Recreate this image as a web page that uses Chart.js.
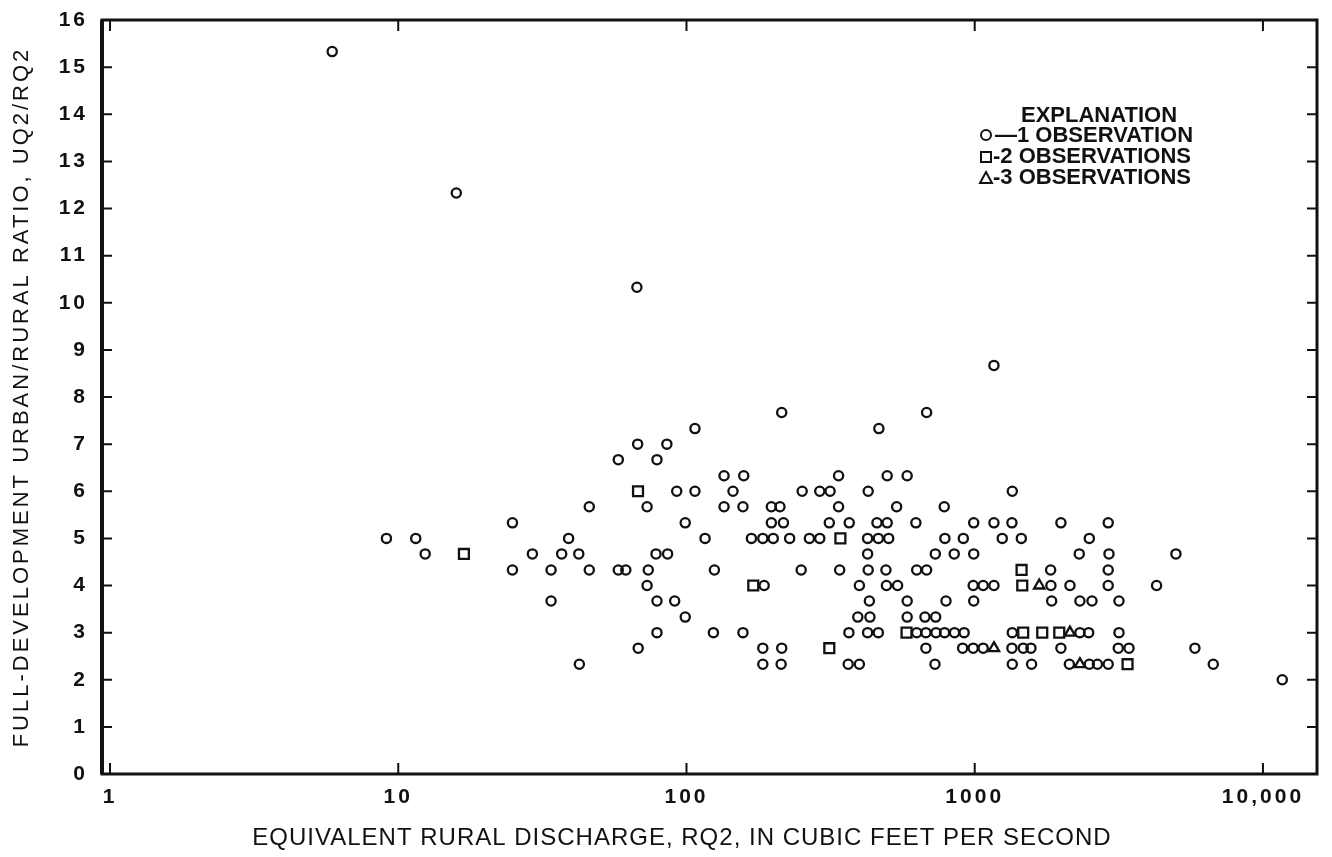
<!DOCTYPE html>
<html>
<head>
<meta charset="utf-8">
<title>Urban/rural ratio vs equivalent rural discharge</title>
<script src="https://cdn.jsdelivr.net/npm/chart.js@4.4.1/dist/chart.umd.min.js"></script>
<style>
  html, body { margin: 0; padding: 0; background: #fff; }
  #chart { display: block; }
</style>
</head>
<body>
<canvas id="chart" width="1332" height="857"></canvas>
<script>
// Axis ticks
var xTickValues = [1, 10, 100, 1000, 10000];
var xTickLabels = ['1', '10', '100', '1000', '10,000'];
var yTickValues = [0, 1, 2, 3, 4, 5, 6, 7, 8, 9, 10, 11, 12, 13, 14, 15, 16];

var xTitle = 'EQUIVALENT RURAL DISCHARGE, RQ2, IN CUBIC FEET PER SECOND';
var yTitle = 'FULL-DEVELOPMENT URBAN/RURAL RATIO, UQ2/RQ2';

// One observation (circles): rural discharge RQ2 and ratio UQ2/RQ2, row by row
var oneObsQ = [
	5.9,
	15.9,
	67.3,
	1166,
	214, 681,
	107, 465,
	67.7, 85.5,
	58, 79,
	135, 158, 337, 497, 583,
	92.5, 107, 145, 252, 290, 315, 427, 1350,
	46, 73, 135, 157, 197, 211, 337, 536, 784,
	24.9, 99, 197, 217, 313, 367, 458, 497, 625, 992, 1166, 1346, 1991, 2905,
	9.1, 11.5, 39, 116, 168, 184, 200, 228, 267, 290, 425, 463, 503, 788, 913, 1246, 1451, 2498,
	12.4, 29.2, 36.9, 42.3, 78.4, 86, 425, 730, 849, 992, 2305, 2923, 4990,
	24.9, 33.9, 46, 58, 61.6, 73.7, 125, 250, 340, 427, 492, 629, 681, 1834, 2905,
	73, 186, 398, 494, 540, 988, 1070, 1166, 1838, 2140, 2905, 4275,
	33.9, 79, 91, 431, 583, 795, 992, 1849, 2317, 2552, 3166,
	99, 393, 433, 583, 672, 732,
	79, 124, 157, 366, 425, 463, 629, 677, 734, 786, 851, 919, 1350, 2317, 2485, 3166,
	68, 184, 214, 677, 908, 988, 1070, 1346, 1474, 1567, 1991, 3148, 3430, 5807,
	42.5, 184, 213, 364, 398, 728, 1350, 1575, 2130, 2498, 2665, 2905, 6724,
	11670
];
var oneObsRatio = [
	15.33,
	12.33,
	10.33,
	8.67,
	7.67, 7.67,
	7.33, 7.33,
	7.0, 7.0,
	6.67, 6.67,
	6.33, 6.33, 6.33, 6.33, 6.33,
	6.0, 6.0, 6.0, 6.0, 6.0, 6.0, 6.0, 6.0,
	5.67, 5.67, 5.67, 5.67, 5.67, 5.67, 5.67, 5.67, 5.67,
	5.33, 5.33, 5.33, 5.33, 5.33, 5.33, 5.33, 5.33, 5.33, 5.33, 5.33, 5.33, 5.33, 5.33,
	5.0, 5.0, 5.0, 5.0, 5.0, 5.0, 5.0, 5.0, 5.0, 5.0, 5.0, 5.0, 5.0, 5.0, 5.0, 5.0, 5.0, 5.0,
	4.67, 4.67, 4.67, 4.67, 4.67, 4.67, 4.67, 4.67, 4.67, 4.67, 4.67, 4.67, 4.67,
	4.33, 4.33, 4.33, 4.33, 4.33, 4.33, 4.33, 4.33, 4.33, 4.33, 4.33, 4.33, 4.33, 4.33, 4.33,
	4.0, 4.0, 4.0, 4.0, 4.0, 4.0, 4.0, 4.0, 4.0, 4.0, 4.0, 4.0,
	3.67, 3.67, 3.67, 3.67, 3.67, 3.67, 3.67, 3.67, 3.67, 3.67, 3.67,
	3.33, 3.33, 3.33, 3.33, 3.33, 3.33,
	3.0, 3.0, 3.0, 3.0, 3.0, 3.0, 3.0, 3.0, 3.0, 3.0, 3.0, 3.0, 3.0, 3.0, 3.0, 3.0,
	2.67, 2.67, 2.67, 2.67, 2.67, 2.67, 2.67, 2.67, 2.67, 2.67, 2.67, 2.67, 2.67, 2.67,
	2.33, 2.33, 2.33, 2.33, 2.33, 2.33, 2.33, 2.33, 2.33, 2.33, 2.33, 2.33, 2.33,
	2.0
];

// Two observations (squares)
var twoObsQ = [16.9, 67.9, 170.5, 313, 342, 580, 1454, 1462, 1473, 1715, 1965, 3390];
var twoObsRatio = [4.67, 6.0, 4.0, 2.67, 5.0, 3.0, 4.33, 4.0, 3.0, 3.0, 3.0, 2.33];

// Three observations (triangles)
var threeObsQ = [1166, 1674, 2140, 2317];
var threeObsRatio = [2.67, 4.0, 3.0, 2.33];

var INK = '#111';
var FONT = '"Liberation Sans", Arial, sans-serif';

function toPoints( qs, ratios ) {
	return qs.map( function( q, i ) {
		return { x: q, y: ratios[ i ] };
	} );
}

// Spaced lettering like the original typeset labels
var letterSpacingPlugin = {
	id: 'letterSpacing',
	beforeDraw: function( chart ) {
		chart.ctx.letterSpacing = '3px';
	}
};

// Heavy frame with inward ticks on all four sides, plus the x title
var framePlugin = {
	id: 'frame',
	afterDraw: function( chart ) {
		var ctx = chart.ctx;
		var a = chart.chartArea;
		var xs = chart.scales.x;
		var ys = chart.scales.y;

		ctx.save();
		ctx.strokeStyle = INK;
		ctx.lineWidth = 2;
		ctx.beginPath();
		yTickValues.forEach( function( v ) {
			var py = ys.getPixelForValue( v );
			ctx.moveTo( a.left, py );
			ctx.lineTo( a.left + 10, py );
			ctx.moveTo( a.right, py );
			ctx.lineTo( a.right - 10, py );
		} );
		xTickValues.forEach( function( v ) {
			var px = xs.getPixelForValue( v );
			ctx.moveTo( px, a.bottom );
			ctx.lineTo( px, a.bottom - 11 );
			ctx.moveTo( px, a.top );
			ctx.lineTo( px, a.top + 11 );
		} );
		ctx.stroke();

		ctx.lineWidth = 3;
		ctx.strokeRect( a.left, a.top, a.right - a.left, a.bottom - a.top );
		ctx.beginPath();
		ctx.lineWidth = 4;
		ctx.moveTo( a.left, a.top );
		ctx.lineTo( a.left, a.bottom );
		ctx.stroke();

		// x title sits a little left of the plot centre in the original
		ctx.letterSpacing = '1px';
		ctx.fillStyle = INK;
		ctx.font = '24px ' + FONT;
		ctx.textAlign = 'center';
		ctx.textBaseline = 'alphabetic';
		ctx.fillText( xTitle, a.left + 580, a.bottom + 71 );
		ctx.restore();
	}
};

// The "EXPLANATION" key inside the plot
var explanationPlugin = {
	id: 'explanation',
	afterDraw: function( chart ) {
		var ctx = chart.ctx;
		var a = chart.chartArea;
		var symX = a.right - 331;

		ctx.save();
		ctx.letterSpacing = '0px';
		ctx.fillStyle = INK;
		ctx.strokeStyle = INK;
		ctx.font = 'bold 22px ' + FONT;
		ctx.textBaseline = 'alphabetic';

		ctx.textAlign = 'center';
		ctx.fillText( 'EXPLANATION', a.right - 218, a.top + 102 );

		ctx.textAlign = 'left';
		ctx.fillText( '\u20141 OBSERVATION', a.right - 322, a.top + 122 );
		ctx.fillText( '-2 OBSERVATIONS', a.right - 324, a.top + 143 );
		ctx.fillText( '-3 OBSERVATIONS', a.right - 324, a.top + 164 );

		ctx.lineWidth = 2;
		ctx.beginPath();
		ctx.arc( symX, a.top + 115, 5, 0, Math.PI * 2 );
		ctx.stroke();

		ctx.strokeRect( symX - 5, a.top + 132, 10, 10 );

		ctx.beginPath();
		ctx.moveTo( symX, a.top + 152 );
		ctx.lineTo( symX + 6, a.top + 163 );
		ctx.lineTo( symX - 6, a.top + 163 );
		ctx.closePath();
		ctx.stroke();
		ctx.restore();
	}
};

var ctx = document.getElementById( 'chart' ).getContext( '2d' );

new Chart( ctx, {
	type: 'scatter',
	data: {
		datasets: [
			{
				label: '1 observation',
				data: toPoints( oneObsQ, oneObsRatio ),
				pointStyle: 'circle',
				pointRadius: 4.6,
				borderWidth: 2.3,
				borderColor: INK,
				backgroundColor: 'rgba(0,0,0,0)'
			},
			{
				label: '2 observations',
				data: toPoints( twoObsQ, twoObsRatio ),
				pointStyle: 'rect',
				pointRadius: 7,
				borderWidth: 2.3,
				borderColor: INK,
				backgroundColor: 'rgba(0,0,0,0)'
			},
			{
				label: '3 observations',
				data: toPoints( threeObsQ, threeObsRatio ),
				pointStyle: 'triangle',
				pointRadius: 6,
				borderWidth: 2.3,
				borderColor: INK,
				backgroundColor: 'rgba(0,0,0,0)'
			}
		]
	},
	options: {
		responsive: false,
		animation: false,
		devicePixelRatio: 1,
		layout: {
			padding: { top: 20, right: 15, left: 0, bottom: 0 }
		},
		plugins: {
			legend: { display: false },
			tooltip: { enabled: false }
		},
		scales: {
			x: {
				type: 'logarithmic',
				min: 0.938,
				max: 15400,
				grid: { display: false },
				border: { display: false },
				afterBuildTicks: function( axis ) {
					axis.ticks = xTickValues.map( function( v ) {
						return { value: v };
					} );
				},
				afterFit: function( axis ) {
					axis.height = 83;
				},
				ticks: {
					autoSkip: false,
					maxRotation: 0,
					padding: 3,
					color: INK,
					font: { family: FONT, size: 21, weight: 'bold' },
					callback: function( value, index ) {
						return xTickLabels[ index ];
					}
				},
				title: { display: false }
			},
			y: {
				min: 0,
				max: 16,
				grid: { display: false },
				border: { display: false },
				afterBuildTicks: function( axis ) {
					axis.ticks = yTickValues.map( function( v ) {
						return { value: v };
					} );
				},
				afterFit: function( axis ) {
					axis.width = 102;
				},
				ticks: {
					padding: 6,
					color: INK,
					font: { family: FONT, size: 21, weight: 'bold' }
				},
				title: {
					display: true,
					text: yTitle,
					color: INK,
					font: { family: FONT, size: 22 },
					padding: { top: 9, bottom: 0 }
				}
			}
		}
	},
	plugins: [ letterSpacingPlugin, framePlugin, explanationPlugin ]
} );
</script>
</body>
</html>
